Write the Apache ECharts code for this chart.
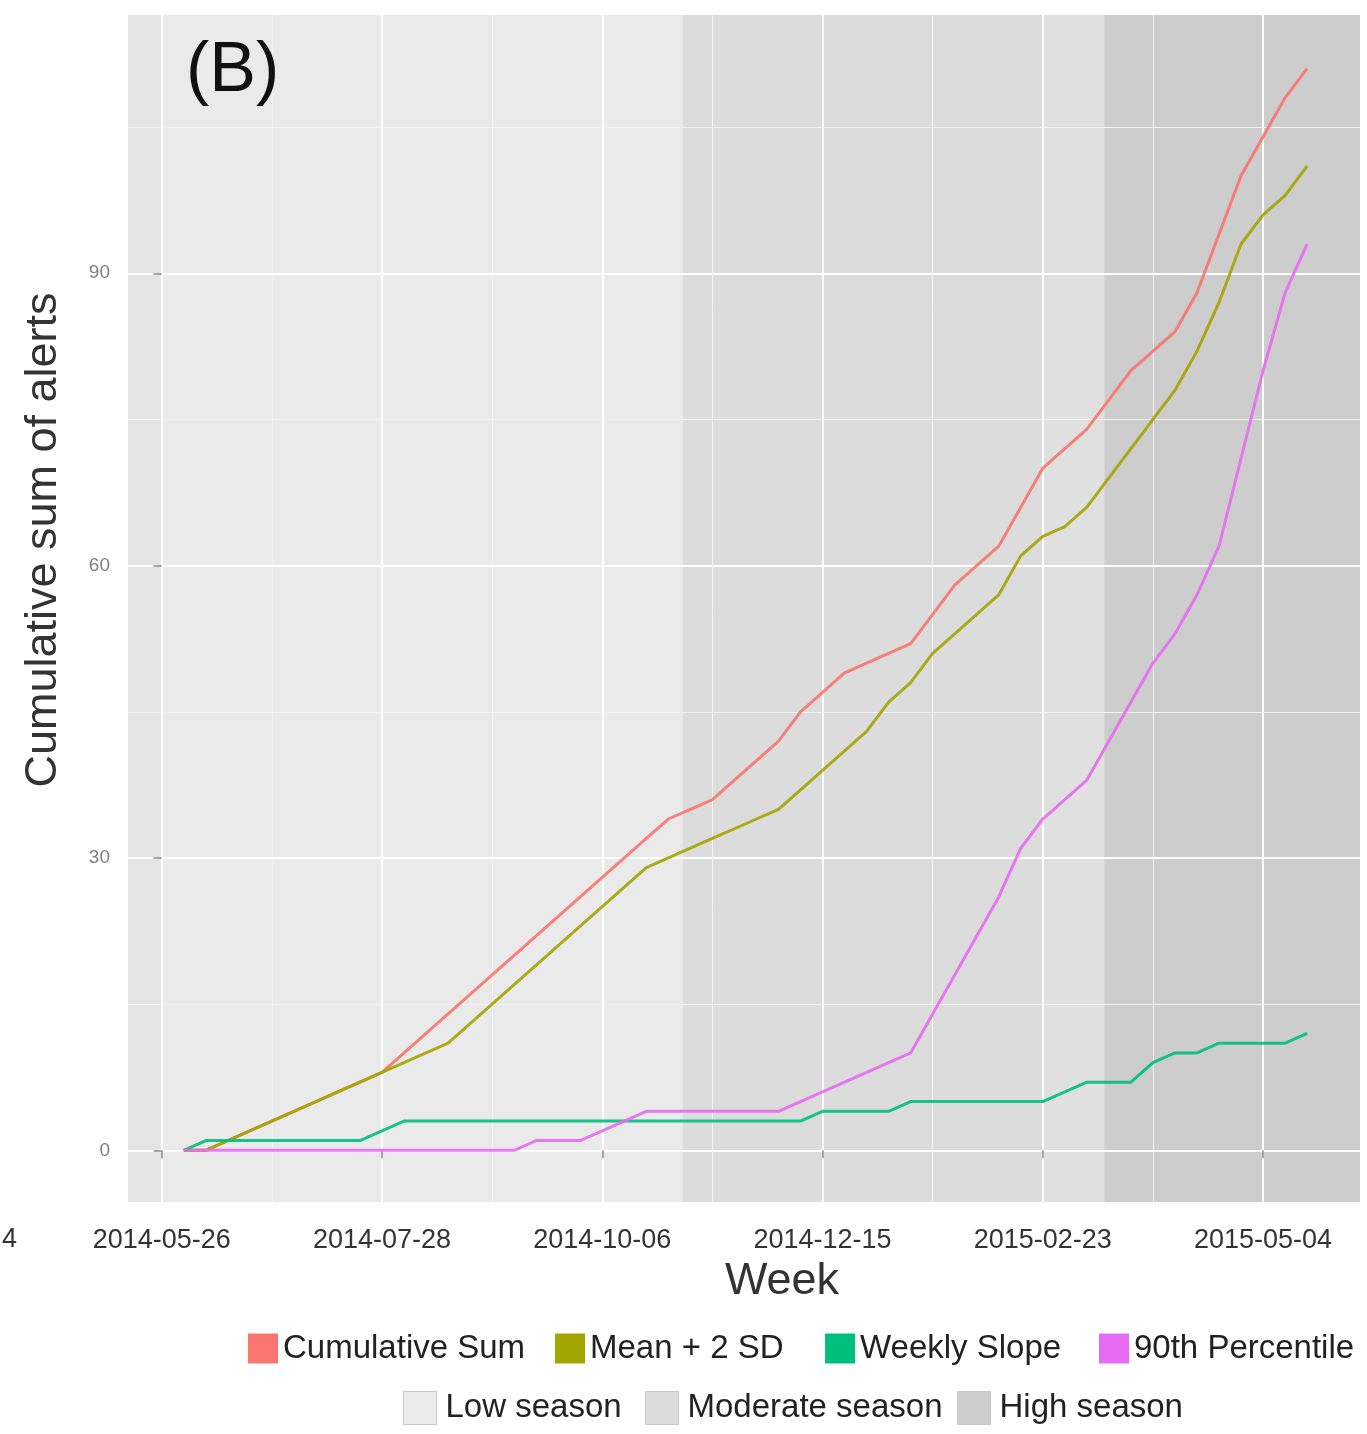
<!DOCTYPE html>
<html>
<head>
<meta charset="utf-8">
<script src="https://cdn.jsdelivr.net/npm/echarts@6/dist/echarts.min.js"></script>
<style>
  html, body { margin: 0; padding: 0; background: #ffffff; }
  #chart { width: 1367px; height: 1434px; }
</style>
</head>
<body>
<div id="chart"></div>
<script>
// Week index of each observation (weeks counted from the first axis break)
const weeks = [1, 2, 3, 4, 5, 6, 7, 8, 9, 10, 11, 12, 13, 14, 15, 16, 17, 18, 19, 20,
  21, 22, 23, 24, 25, 26, 27, 28, 29, 30, 31, 32, 33, 34, 35, 36, 37, 38, 39, 40,
  41, 42, 43, 44, 45, 46, 47, 48, 49, 50, 51, 52];

// Axis breaks and their date labels
const tickWeeks = [0, 10, 20, 30, 40, 50];
const tickLabels = ['2014-05-26', '2014-07-28', '2014-10-06', '2014-12-15', '2015-02-23', '2015-05-04'];
const minorWeeks = [5, 15, 25, 35, 45];
const yTicks = [0, 30, 60, 90];
const yMinor = [15, 45, 75, 105];

// Cumulative number of alerts raised by each detection method
const cumulativeSum = [0, 0, 1, 2, 3, 4, 5, 6, 7, 8,
  10, 12, 14, 16, 18, 20, 22, 24, 26, 28,
  30, 32, 34, 35, 36, 38, 40, 42, 45, 47,
  49, 50, 51, 52, 55, 58, 60, 62, 66, 70,
  72, 74, 77, 80, 82, 84, 88, 94, 100, 104,
  108, 111];
const meanPlus2SD = [0, 0, 1, 2, 3, 4, 5, 6, 7, 8,
  9, 10, 11, 13, 15, 17, 19, 21, 23, 25,
  27, 29, 30, 31, 32, 33, 34, 35, 37, 39,
  41, 43, 46, 48, 51, 53, 55, 57, 61, 63,
  64, 66, 69, 72, 75, 78, 82, 87, 93, 96,
  98, 101];
const weeklySlope = [0, 1, 1, 1, 1, 1, 1, 1, 1, 2,
  3, 3, 3, 3, 3, 3, 3, 3, 3, 3,
  3, 3, 3, 3, 3, 3, 3, 3, 3, 4,
  4, 4, 4, 5, 5, 5, 5, 5, 5, 5,
  6, 7, 7, 7, 9, 10, 10, 11, 11, 11,
  11, 12];
const percentile90 = [0, 0, 0, 0, 0, 0, 0, 0, 0, 0,
  0, 0, 0, 0, 0, 0, 1, 1, 1, 2,
  3, 4, 4, 4, 4, 4, 4, 4, 5, 6,
  7, 8, 9, 10, 14, 18, 22, 26, 31, 34,
  36, 38, 42, 46, 50, 53, 57, 62, 71, 80,
  88, 93];

const seriesNames = ['Cumulative Sum', 'Mean + 2 SD', 'Weekly Slope', '90th Percentile'];
const seriesValues = [cumulativeSum, meanPlus2SD, weeklySlope, percentile90];

// Season periods, in weeks
const seasonNames = ['Low season', 'Moderate season', 'High season'];
const seasonSpans = [[[0, 23.66]], [[23.66, 40], [40, 42.8]], [[42.8, 54.4]]];

const X_MIN = -1.53, X_MAX = 54.4;
const Y_MIN = -5.3, Y_MAX = 116.5;

const FONT = '"Liberation Sans", Arial, Helvetica, sans-serif';
const lineColors = ['#F8766D', '#A3A500', '#00BF7D', '#E76BF3'];
const seasonColors = ['#eaeaea', '#dcdcdc', '#cdcdcd'];
const seasonShade = ['#eaeaea', '#e0e0e0', '#cdcdcd'];

const chart = echarts.init(document.getElementById('chart'), null, { renderer: 'canvas' });

function seasonSeries(idx) {
  return {
    name: seasonNames[idx],
    type: 'custom',
    z: 1,
    silent: true,
    itemStyle: { color: seasonColors[idx], borderColor: '#c4c4c4', borderWidth: 1 },
    data: seasonSpans[idx],
    renderItem: function (params, api) {
      const p0 = api.coord([api.value(0), Y_MAX]);
      const p1 = api.coord([api.value(1), Y_MIN]);
      const fill = params.dataIndex === 0 ? seasonColors[idx] : seasonShade[idx];
      return {
        type: 'rect',
        shape: { x: p0[0], y: p0[1], width: p1[0] - p0[0], height: p1[1] - p0[1] },
        style: { fill: fill }
      };
    }
  };
}

const lineSeries = seriesNames.map(function (name, i) {
  return {
    name: name,
    type: 'line',
    z: 5,
    showSymbol: false,
    silent: true,
    color: lineColors[i],
    lineStyle: { width: 3, color: lineColors[i], opacity: 0.9 },
    data: weeks.map(function (w, k) { return [w, seriesValues[i][k]]; })
  };
});

const legendTextStyle = { fontSize: 33, color: '#222222', fontFamily: FONT };
const lineLegendLeft = [248, 555, 825, 1099];
const seasonLegendLeft = [403, 645, 957];

const legends = seriesNames.map(function (name, i) {
  return {
    data: [name], left: lineLegendLeft[i], top: 1332, padding: 0,
    icon: 'rect', itemWidth: 30, itemHeight: 30, selectedMode: false,
    textStyle: legendTextStyle
  };
}).concat(seasonNames.map(function (name, i) {
  return {
    data: [{ name: name, itemStyle: { color: seasonColors[i], borderColor: '#c8c8c8', borderWidth: 1 } }],
    left: seasonLegendLeft[i], top: 1391, padding: 0,
    icon: 'rect', itemWidth: 33, itemHeight: 33, selectedMode: false,
    textStyle: { fontSize: 33, color: '#222222', fontFamily: FONT, padding: [6, 0, 0, 4] }
  };
}));

const option = {
  animation: false,
  backgroundColor: '#ffffff',
  textStyle: { fontFamily: FONT },
  grid: {
    left: 128, right: 7, top: 15, bottom: 232,
    show: true, backgroundColor: '#e4e4e4', borderWidth: 0
  },
  legend: legends,
  xAxis: [{
    type: 'value', min: X_MIN, max: X_MAX, z: 3,
    axisLine: { show: false },
    axisTick: { show: true, length: 8, customValues: tickWeeks, lineStyle: { color: '#8a8a8a', width: 1.5 } },
    axisLabel: {
      customValues: tickWeeks, margin: 25, fontSize: 27, color: '#333333', fontFamily: FONT,
      formatter: function (v) { return tickLabels[tickWeeks.indexOf(v)]; }
    },
    splitLine: { show: true, lineStyle: { color: '#ffffff', width: 2 } }
  }, {
    type: 'value', min: X_MIN, max: X_MAX, z: 2, position: 'bottom',
    axisLine: { show: false },
    axisTick: { show: false, customValues: minorWeeks },
    axisLabel: { show: false, customValues: minorWeeks },
    splitLine: { show: true, lineStyle: { color: '#f3f3f3', width: 1 } }
  }],
  yAxis: [{
    type: 'value', min: Y_MIN, max: Y_MAX, z: 3,
    axisLine: { show: false },
    axisTick: { show: true, length: 8, customValues: yTicks, lineStyle: { color: '#8a8a8a', width: 1.5 } },
    axisLabel: { customValues: yTicks, margin: 18, fontSize: 19, color: '#7f7f7f', fontFamily: FONT },
    splitLine: { show: true, lineStyle: { color: '#ffffff', width: 2 } }
  }, {
    type: 'value', min: Y_MIN, max: Y_MAX, z: 2, position: 'left',
    axisLine: { show: false },
    axisTick: { show: false, customValues: yMinor },
    axisLabel: { show: false, customValues: yMinor },
    splitLine: { show: true, lineStyle: { color: '#f3f3f3', width: 1 } }
  }],
  graphic: [
    { type: 'text', x: 186, y: 72, z: 10, style: { text: '(B)', font: '70px ' + FONT, fill: '#111111', textAlign: 'left', textVerticalAlign: 'middle' } },
    { type: 'text', x: 782, y: 1282, style: { text: 'Week', font: '45px ' + FONT, fill: '#333333', textAlign: 'center', textVerticalAlign: 'middle' } },
    { type: 'text', x: 44, y: 540, rotation: Math.PI / 2, style: { text: 'Cumulative sum of alerts', font: '45px ' + FONT, fill: '#333333', textAlign: 'center', textVerticalAlign: 'middle' } },
    { type: 'text', x: 2, y: 1240, style: { text: '4', font: '27px ' + FONT, fill: '#333333', textAlign: 'left', textVerticalAlign: 'middle' } }
  ],
  series: [seasonSeries(0), seasonSeries(1), seasonSeries(2)].concat(lineSeries)
};

chart.setOption(option);
</script>
</body>
</html>
